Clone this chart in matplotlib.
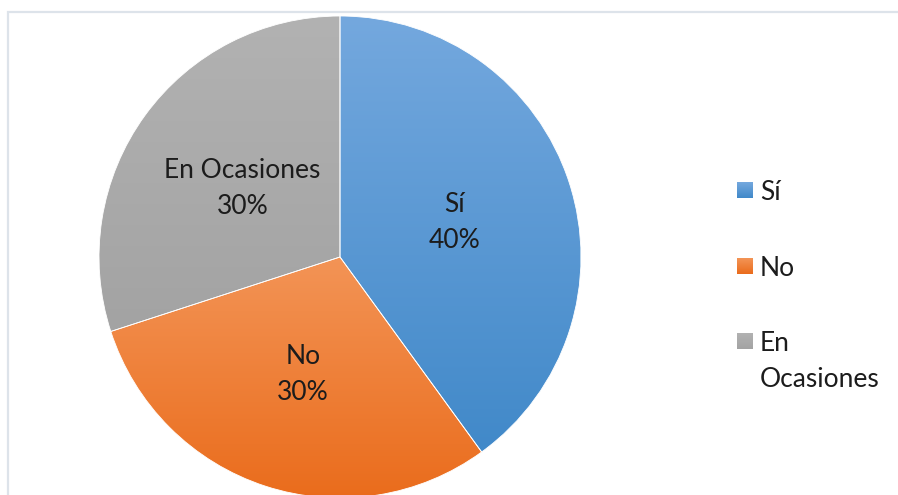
import numpy as np
import matplotlib
matplotlib.use("Agg")
import matplotlib.pyplot as plt
from matplotlib.patches import Wedge, Rectangle
from matplotlib.colors import LinearSegmentedColormap

plt.rcParams['font.family'] = ['Lato', 'DejaVu Sans']

categories = ["Sí", "No", "En Ocasiones"]
legend_labels = ["Sí", "No", "En\nOcasiones"]
values = [40, 30, 30]
pct_labels = ["40%", "30%", "30%"]

# gradient (top colour, bottom colour) for each slice
grad_colors = [("#74a8de", "#4189c9"),
               ("#f39456", "#ea6c1c"),
               ("#b2b2b2", "#a3a3a3")]

W, H = 898, 495
FS = 19
TXT = "#1c1c1c"
fig = plt.figure(figsize=(W / 100, H / 100), dpi=100)
ax = fig.add_axes([0, 0, 1, 1])
ax.set_xlim(0, W)
ax.set_ylim(0, H)
ax.set_aspect('equal')
ax.axis('off')

# chart-area frame
ax.add_patch(Rectangle((8, -20), W + 20, H - 12 + 20, fill=False,
                       edgecolor="#dde3ea", lw=1.6, zorder=1))

cx, cy, r = 340, H - 257, 241

total = sum(values)
start = 90.0
for i, v in enumerate(values):
    sweep = 360.0 * v / total
    t1 = start
    t2 = start - sweep
    w = Wedge((cx, cy), r, t2, t1, facecolor='none', edgecolor='none')
    ax.add_patch(w)
    # vertical extent of the slice for its gradient
    angs = np.linspace(np.radians(t2), np.radians(t1), 200)
    ys = np.concatenate([cy + r * np.sin(angs), [cy]])
    ytop, ybot = ys.max(), ys.min()
    cmap = LinearSegmentedColormap.from_list(f"g{i}", [grad_colors[i][1], grad_colors[i][0]])
    grad = np.linspace(0, 1, 256).reshape(-1, 1)
    im = ax.imshow(grad, cmap=cmap, origin='lower', aspect='auto',
                   extent=(cx - r, cx + r, ybot, ytop), zorder=2,
                   interpolation='bilinear')
    im.set_clip_path(w)
    ax.add_patch(Wedge((cx, cy), r, t2, t1, facecolor='none',
                       edgecolor='white', lw=0.6, zorder=3))
    mid = np.radians((t1 + t2) / 2)
    lx = cx + 0.5 * r * np.cos(mid)
    ly = cy + 0.5 * r * np.sin(mid)
    ax.text(lx, ly + 18, categories[i], ha='center', va='center_baseline',
            fontsize=FS, color=TXT, zorder=4)
    ax.text(lx, ly - 18, pct_labels[i], ha='center', va='center_baseline',
            fontsize=FS, color=TXT, zorder=4)
    start = t2

# legend
leg_y = [H - 190, H - 266, H - 341]
for i, lab in enumerate(legend_labels):
    sq = Rectangle((737, leg_y[i] - 8), 16, 16, facecolor='none', edgecolor='none')
    ax.add_patch(sq)
    cmap = LinearSegmentedColormap.from_list(f"l{i}", [grad_colors[i][1], grad_colors[i][0]])
    im = ax.imshow(np.linspace(0, 1, 32).reshape(-1, 1), cmap=cmap, origin='lower',
                   aspect='auto', extent=(737, 753, leg_y[i] - 8, leg_y[i] + 8), zorder=2)
    im.set_clip_path(sq)
    for k, line in enumerate(lab.split("\n")):
        ax.text(760, leg_y[i] - 36 * k, line, ha='left', va='center_baseline',
                fontsize=FS, color=TXT)

fig.savefig("out.png", dpi=100)
